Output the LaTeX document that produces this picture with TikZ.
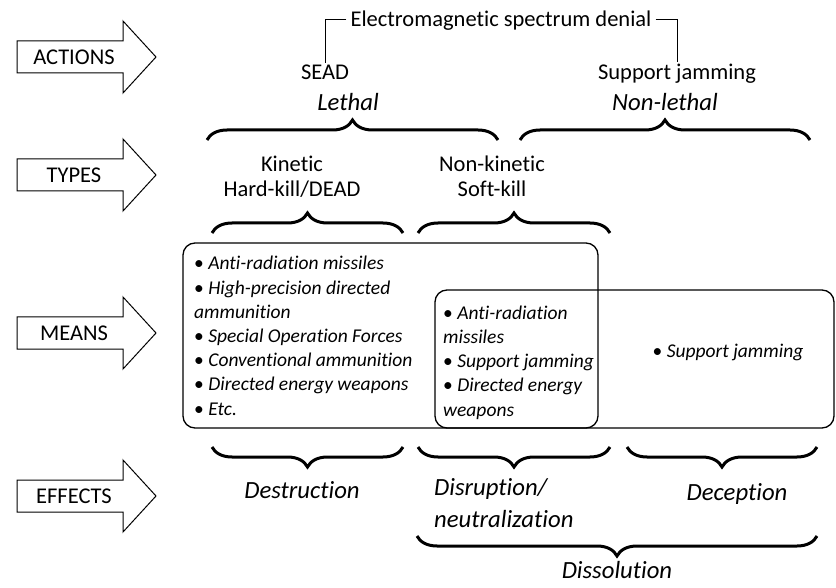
\documentclass[tikz,border=0pt]{standalone}
\usepackage{fontspec}
\setmainfont{Carlito}[Ligatures=NoCommon]
\usetikzlibrary{decorations.pathreplacing}

\newcommand\bul{\textup{\textbullet}\ }

\tikzset{
  levelarrow/.style={draw, line width=1pt},
  levelname/.style={font=\fontsize{22.5}{27}\selectfont, inner sep=2pt},
  kindtext/.style={font=\fontsize{22.5}{25}\selectfont, inner sep=2pt, align=center},
  cattext/.style={font=\fontsize{24.7}{32}\selectfont\itshape, inner sep=2pt},
  itemtext/.style={font=\fontsize{19.5}{24.2}\selectfont\itshape, inner sep=0pt, align=left},
  meansbox/.style={draw, line width=1.3pt, rounded corners=12pt},
  groupbrace/.style={decorate, decoration={brace, amplitude=20pt}, line width=3pt},
}

\begin{document}
\begin{tikzpicture}[x=1pt, y=-1pt]
  \useasboundingbox (0,0) rectangle (836,588);

  % level arrows
  \foreach \yy/\lbl in {57/ACTIONS, 175/TYPES, 333/MEANS, 496/EFFECTS}{
    \draw[levelarrow] (17,\yy-16) -- (123,\yy-16) -- (123,\yy-36) -- (156,\yy)
      -- (123,\yy+36) -- (123,\yy+16) -- (17,\yy+16) -- cycle;
    \node[levelname] (\lbl) at (74,\yy) {\lbl};
  }

  % actions
  \node[levelname, anchor=base, text depth=0pt, inner sep=4pt] (emsd) at (501,27) {Electromagnetic spectrum denial};
  \node[levelname, anchor=base] (sead) at (325,80) {SEAD};
  \node[levelname, anchor=base] (supj) at (677,80) {Support jamming};
  \draw[line width=1pt] (emsd.west) -| (sead.north);
  \draw[line width=1pt] (emsd.east) -| (supj.north);
  \node[cattext, anchor=base] (lethal) at (348,111) {Lethal};
  \node[cattext, anchor=base] (nonlethal) at (665,111) {Non-lethal};
  \draw[groupbrace] (207,140) -- (498,140);
  \draw[groupbrace] (520,140) -- (810,140);

  % types (base = last line)
  \node[kindtext, anchor=base] (kinetic) at (292,197) {Kinetic\\Hard-kill/DEAD};
  \node[kindtext, anchor=base] (nonkinetic) at (492,197) {Non-kinetic\\Soft-kill};
  \draw[groupbrace] (212,233) -- (403,233);
  \draw[groupbrace] (418,233) -- (610,233);

  % means
  \draw[meansbox] (183,243) rectangle (598,428);
  \draw[meansbox] (435,290) rectangle (834,428);
  \node[itemtext, anchor=base west] (lethalmeans) at (194,415) {\bul Anti-radiation missiles\\
    \bul High-precision directed\\ammunition\\
    \bul Special Operation Forces\\
    \bul Conventional ammunition\\
    \bul Directed energy weapons\\
    \bul Etc.};
  \node[itemtext, anchor=base west] (softmeans) at (443,416) {\bul Anti-radiation\\missiles\\
    \bul Support jamming\\
    \bul Directed energy\\weapons};
  \node[itemtext, anchor=base] (jammeans) at (728,357) {\bul Support jamming};

  % effects
  \draw[groupbrace] (403,447) -- (212,447);
  \draw[groupbrace] (610,447) -- (418,447);
  \draw[groupbrace] (817,447) -- (627,447);
  \node[cattext, anchor=base] (destruction) at (302,498) {Destruction};
  \node[cattext, anchor=base west, align=left] (disruption) at (432,527) {Disruption/\\neutralization};
  \node[cattext, anchor=base] (deception) at (737,500) {Deception};
  \draw[groupbrace] (817,536) -- (417,536);
  \node[cattext, anchor=base] (dissolution) at (617,578) {Dissolution};
\end{tikzpicture}
\end{document}
